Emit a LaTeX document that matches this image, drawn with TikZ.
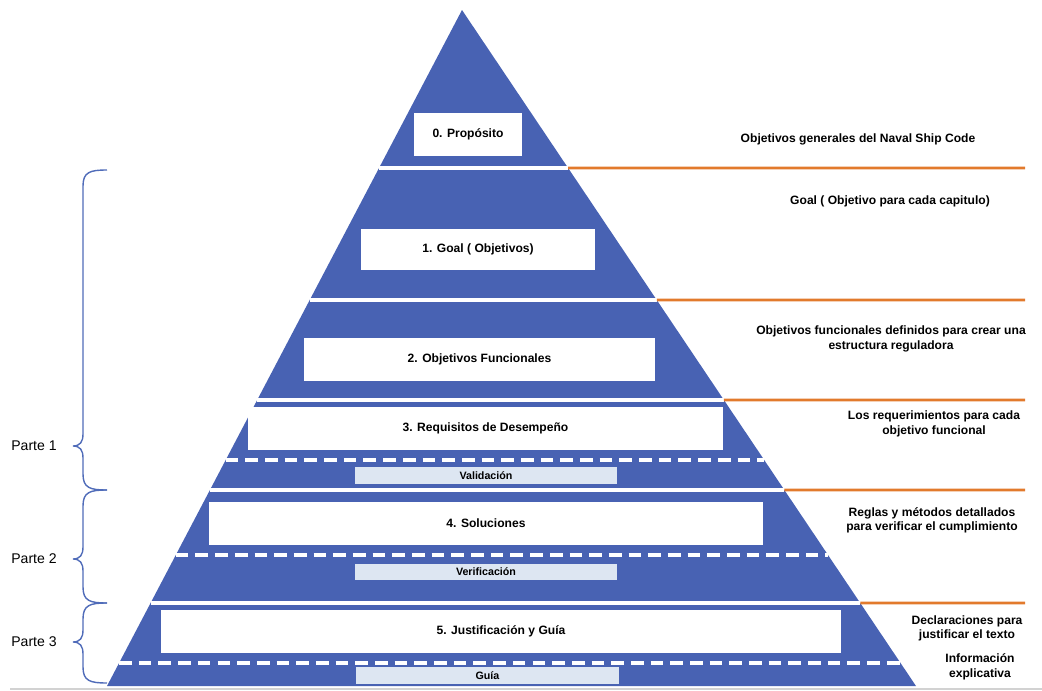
\documentclass[tikz,border=0pt]{standalone}
\usepackage{fontspec}
\setmainfont{Liberation Sans}
\usepackage{tikz}
\usetikzlibrary{calc,positioning}
\definecolor{piramide}{RGB}{72,98,179}
\definecolor{naranja}{RGB}{226,122,44}
\definecolor{celeste}{RGB}{221,230,242}
\definecolor{llave}{RGB}{80,108,185}

\begin{document}
\begin{tikzpicture}[x=0.025cm, y=-0.025cm, font=\bfseries\fontsize{8.6}{10.4}\selectfont,
    nivel/.style={fill=white, inner sep=0pt, minimum height=1.075cm},
    subnivel/.style={fill=celeste, inner sep=0pt, minimum width=6.55cm, minimum height=0.42cm, font=\bfseries\fontsize{7.6}{8}\selectfont},
    nota/.style={align=center},
    parte/.style={font=\mdseries\fontsize{10}{12}\selectfont}]
    \useasboundingbox (0,0) rectangle (1042,691);

    % Piramide
    \coordinate (apex) at (462,10);
    \coordinate (bl) at (107,686);
    \coordinate (br) at (916,686);
    \fill[piramide] (apex) -- (bl) -- (br) -- cycle;

    % Separadores y lineas naranjas
    \foreach \y [count=\i] in {168,300,400,490,603}{
        \coordinate (sl\i) at ($(apex)!{(\y-10)/676}!(bl)$);
        \coordinate (sr\i) at ($(apex)!{(\y-10)/676}!(br)$);
        \coordinate (se\i) at (1025,\y);
        \draw[white, line width=2.4pt] (sl\i) -- (sr\i);
        \draw[naranja, line width=2pt] (sr\i) -- (se\i);
    }
    \foreach \y [count=\i] in {460,555,663}{
        \coordinate (dl\i) at ($(apex)!{(\y-10)/676}!(bl)$);
        \coordinate (dr\i) at ($(apex)!{(\y-10)/676}!(br)$);
        \draw[white, line width=2.4pt, dash pattern=on 9pt off 5pt] (dl\i) -- (dr\i);
    }

    % Niveles
    \node[nivel, minimum width=2.675cm] (p0) at (468,134.5) {0. Propósito};
    \node[nivel, minimum width=5.85cm, minimum height=1.025cm] (p1) at (478,249.5) {1. Goal ( Objetivos)};
    \node[nivel, minimum width=8.775cm] (p2) at (479.5,359.5) {2. Objetivos Funcionales};
    \node[nivel, minimum width=11.875cm] (p3) at (485.5,428.5) {3. Requisitos de Desempeño};
    \node[subnivel] (val) at (486,475.5) {Validación};
    \node[nivel, minimum width=13.85cm] (p4) at (486,523.5) {4. Soluciones};
    \node[subnivel] (ver) at (486,572) {Verificación};
    \node[nivel, minimum width=17cm] (p5) at (501,631.5) {5. Justificación y Guía};
    \node[subnivel] (guia) at (487.5,675.5) {Guía};

    % Notas a la derecha
    \node[nota] (n0) at (858,139) {Objetivos generales del Naval Ship Code};
    \node[nota] (n1) at (890,201) {Goal ( Objetivo para cada capitulo)};
    \node[nota] (n2) at (891,339) {Objetivos funcionales definidos para crear una\\estructura reguladora};
    \node[nota] (n3) at (934,424) {Los requerimientos para cada\\objetivo funcional};
    \node[nota] (n4) at (932,520.5) {Reglas y métodos detallados\\para verificar el cumplimiento};
    \node[nota] (n5) at (967,628.5) {Declaraciones para\\justificar el texto};
    \node[nota] (n6) at (980,667) {Información\\explicativa};

    % Llaves
    \foreach \ya/\yt/\yb in {170/446/490,490/559/603,603/642/683}
        \draw[llave, line width=1pt] (107,\ya) .. controls (90,\ya) and (83,\ya+2) .. (83,\ya+16) -- (83,\yt-12)
            .. controls (83,\yt-4) and (80,\yt) .. (73,\yt) .. controls (80,\yt) and (83,\yt+4) .. (83,\yt+12)
            -- (83,\yb-16) .. controls (83,\yb-2) and (90,\yb) .. (107,\yb);
    \node[parte] (parte1) at (34,446) {Parte 1};
    \node[parte] (parte2) at (34,559) {Parte 2};
    \node[parte] (parte3) at (34,642) {Parte 3};

    \draw[gray!35, line width=1pt] (10,689) -- (1042,689);
\end{tikzpicture}
\end{document}
